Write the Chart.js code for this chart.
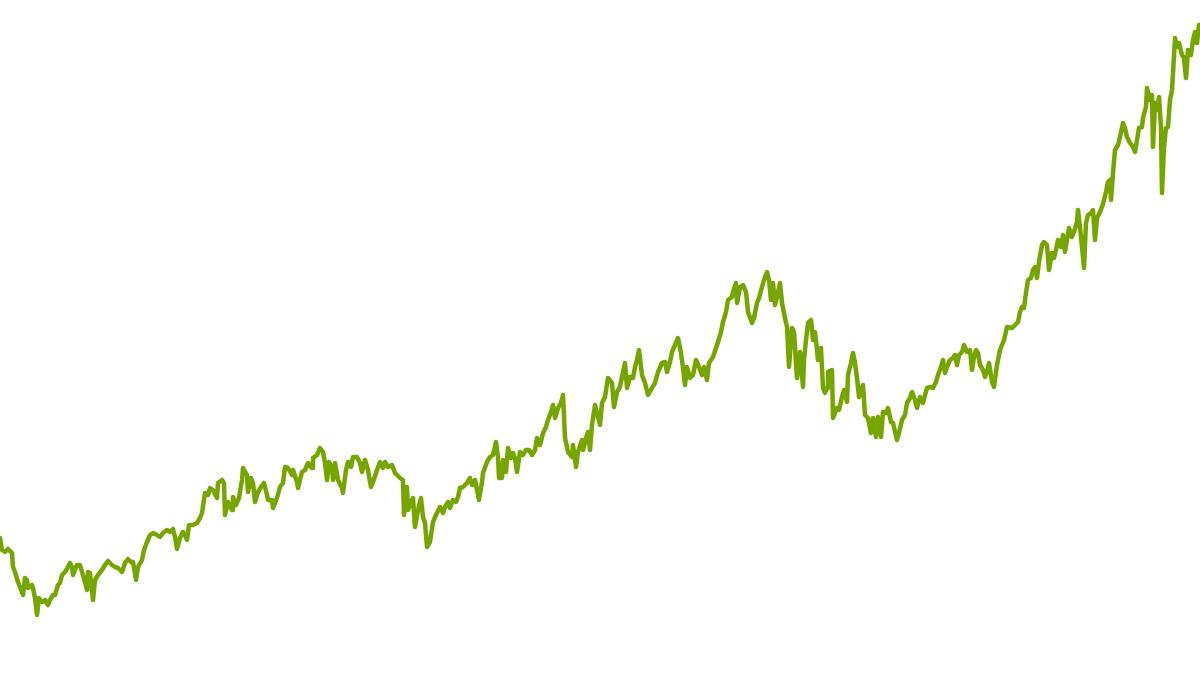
<!DOCTYPE html>
<html>
<head>
<meta charset="utf-8">
<script src="https://cdn.jsdelivr.net/npm/chart.js@4"></script>
<style>
  html, body { margin: 0; padding: 0; background: #fff; }
  #wrap { width: 1200px; height: 675px; }
</style>
</head>
<body>
<div id="wrap"><canvas id="lineGraph"></canvas></div>
<script>
// trading day position and price
var days = [0,2,5,8,12,13,15,18,20,23,25,27,28,32,33,35,37,39,42,45,48,50,53,55,58,60,62,65,68,70,72,73,77,80,82,85,87,88,90,93,95,98,
  102,105,108,112,115,118,122,125,128,132,133,136,138,142,144,147,150,153,157,160,163,167,170,173,175,177,180,183,185,187,189,193,197,
  200,202,205,208,210,213,217,218,222,224,225,228,232,233,236,239,242,243,247,248,251,253,255,258,261,264,267,268,272,273,277,280,283,285,288,292,293,297,298,
  302,305,308,312,313,317,320,323,325,327,329,332,333,335,338,342,343,346,348,351,353,357,360,362,365,368,371,373,377,380,383,385,388,392,395,
  400,403,404,407,408,411,413,415,418,421,423,425,427,430,433,436,440,443,445,448,450,453,456,458,460,463,467,470,472,475,477,479,482,483,487,490,493,496,498,499,
  502,503,506,508,511,513,515,517,520,523,526,529,532,535,537,540,543,546,548,551,553,555,558,561,563,565,568,572,573,576,578,582,583,586,588,590,592,595,597,
  600,602,605,608,612,614,617,620,623,625,627,630,633,635,637,639,642,645,648,652,655,658,662,665,667,670,672,675,678,681,683,685,687,690,693,696,699,
  702,704,707,709,713,716,718,721,723,726,728,732,733,736,737,740,743,746,748,752,754,757,759,762,764,767,769,771,773,775,777,780,782,785,787,789,792,794,797,
  800,803,804,806,808,811,813,815,817,818,821,823,825,827,828,832,833,837,839,842,844,847,848,851,853,855,857,859,863,865,868,871,873,876,878,881,883,886,888,891,893,897,899,
  902,905,907,910,912,915,917,920,923,925,927,931,933,936,938,941,943,945,947,950,953,955,957,959,962,964,967,970,972,974,976,978,980,983,985,987,989,992,994,997,
  1000,1004,1007,1012,1015,1018,1020,1022,1024,1026,1028,1031,1033,1035,1037,1039,1042,1044,1047,1049,1052,1054,1056,1058,1061,1063,1065,1067,1069,1072,1074,1077,1078,1080,1083,1084,1086,1088,1091,1093,1095,1097,
  1100,1103,1106,1108,1110,1111,1113,1115,1118,1120,1123,1125,1127,1130,1133,1135,1137,1139,1142,1143,1146,1147,1150,1152,1153,1155,1157,1159,1161,1162,1164,1166,1168,1170,1172,1173,1175,1177,1179,1182,1184,1186,1188,1191,1193,1195,1197,1199,1200];

var prices = [137,125,123,126,122,108,103,93,88,80,97,95,87,90,87,77,60,77,73,75,70,75,80,80,90,92,100,103,108,112,108,100,110,110,103,93,85,103,102,75,95,100,
  105,110,114,110,108,107,103,112,116,112,113,95,108,115,125,133,140,142,140,138,142,145,143,146,138,126,137,143,140,135,150,150,152,
  157,162,182,180,187,185,177,192,195,192,160,173,165,178,170,177,195,207,200,183,197,192,173,183,188,192,180,175,175,167,177,188,192,208,207,200,205,193,187,
  203,205,212,207,217,220,227,223,212,195,213,207,195,212,195,187,182,205,213,208,218,218,212,203,215,205,188,193,205,213,207,213,208,210,202,
  197,195,160,188,165,173,177,148,165,177,158,152,128,133,153,160,168,162,168,173,167,175,173,178,187,188,192,197,190,195,185,175,193,202,213,218,220,233,218,197,
  197,215,203,227,217,222,217,203,223,220,225,225,220,225,237,230,242,248,255,263,270,257,267,272,280,237,223,218,230,208,223,235,225,237,243,225,250,270,262,
  250,272,278,297,292,268,283,288,303,312,287,298,297,308,315,325,300,292,280,287,292,303,312,313,303,313,323,330,337,322,307,290,308,297,300,315,308,
  300,308,295,312,318,327,333,343,353,363,375,378,383,392,372,388,390,383,363,352,357,372,377,388,395,403,395,375,392,370,378,392,372,357,348,308,347,343,297,
  323,288,315,335,352,355,335,343,325,315,327,287,282,287,303,305,257,267,265,278,285,273,300,312,322,312,297,278,290,260,257,242,257,238,258,238,263,262,267,253,252,235,242,
  255,260,272,277,283,275,267,278,272,280,287,288,287,293,300,308,315,302,308,315,317,320,310,320,323,330,323,325,305,318,325,322,310,305,298,303,312,293,288,310,
  325,335,348,347,350,353,363,368,367,382,395,397,405,408,397,413,430,433,430,405,422,417,425,435,428,440,423,435,447,438,443,453,465,448,418,407,452,460,462,465,435,457,
  463,471,483,493,495,475,502,525,530,538,552,547,538,532,528,523,535,547,548,557,568,587,575,580,528,572,565,578,548,482,528,547,548,575,585,602,637,628,632,620,617,597,625,620,635,643,632,650,648];

var points = days.map(function (d, i) { return { x: d, y: prices[i] }; });

var linechart = new Chart("lineGraph", {
  type: "line",
  data: {
    datasets: [{
      data: points,
      borderColor: "#76a500",
      borderWidth: 4.5,
      fill: false,
      tension: 0,
      pointRadius: 0,
      borderJoinStyle: "round",
      borderCapStyle: "round"
    }]
  },
  options: {
    responsive: true,
    maintainAspectRatio: false,
    animation: false,
    layout: { padding: 0 },
    plugins: { legend: { display: false }, tooltip: { enabled: false } },
    scales: {
      x: { type: "linear", min: 0, max: 1200, display: false },
      y: { min: 0, max: 675, display: false }
    }
  }
});
</script>
</body>
</html>
